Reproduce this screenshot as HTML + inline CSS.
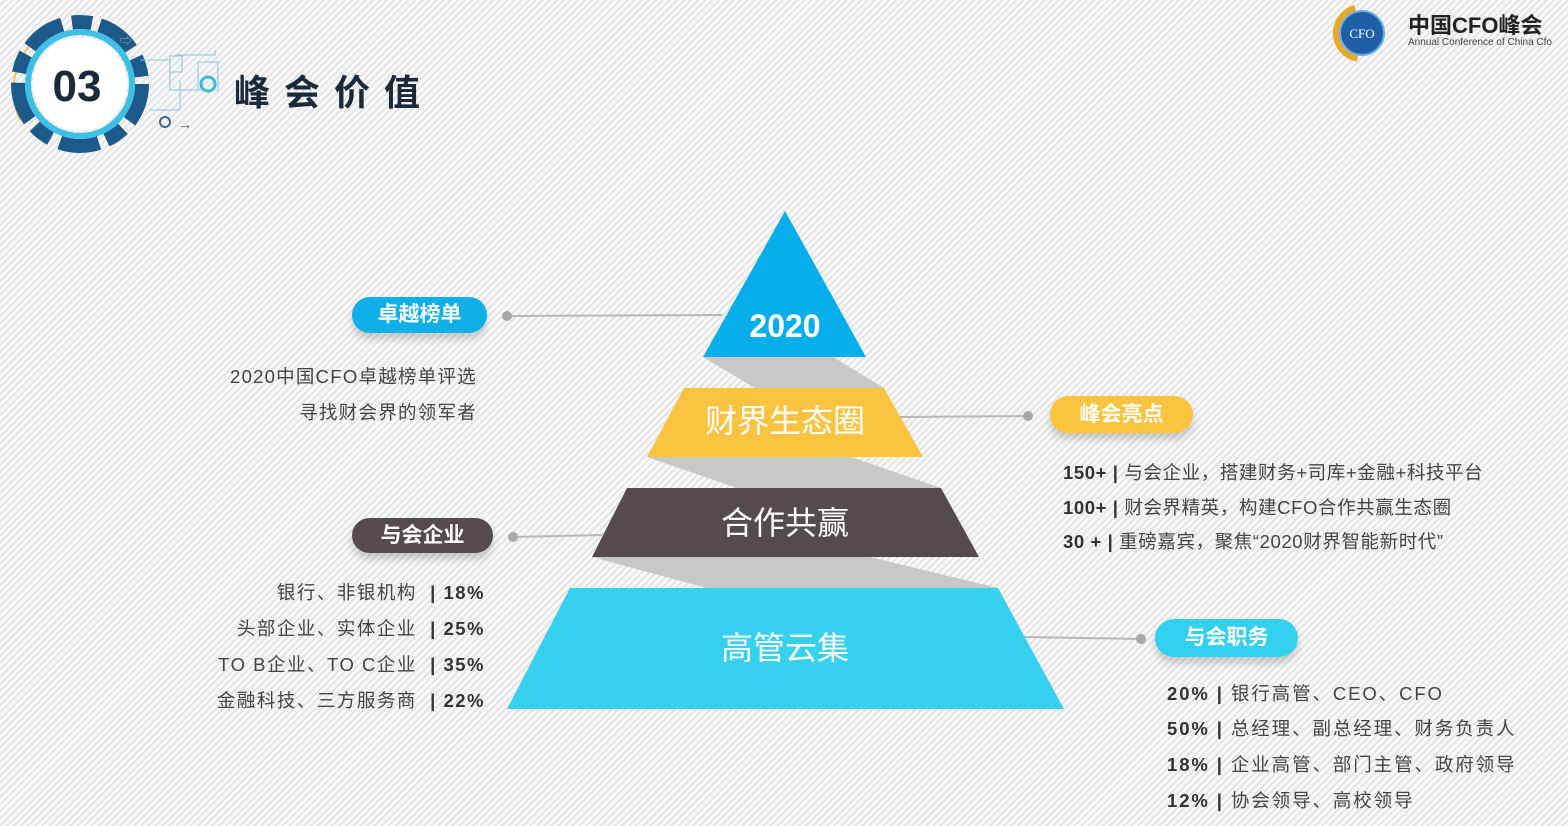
<!DOCTYPE html>
<html><head><meta charset="utf-8"><style>
html,body{margin:0;padding:0}
body{width:1568px;height:826px;position:relative;overflow:hidden;font-family:"Liberation Sans","Noto Sans CJK SC",sans-serif;
background:repeating-linear-gradient(-45deg,#f9f9f9 0 3px,#e4e4e4 3px 5px);}
.abs{position:absolute}
.pill{position:absolute;border-radius:19px;color:#fff;font-weight:bold;font-size:21px;text-align:center;box-shadow:0 6px 8px rgba(0,0,0,.18)}
.t{position:absolute;color:#444;font-size:18.5px;white-space:nowrap;letter-spacing:1px}
.r{text-align:right}
b{color:#333}
</style></head><body>
<svg class="abs" style="left:0;top:0" width="1568" height="826">
 <g>
  <path d="M35,40 A70,70 0 0 0 20,120" stroke="#f2c45a" stroke-width="2" fill="none"/>
  <circle cx="80" cy="84" r="62" fill="none" stroke="#1d5a8c" stroke-width="14" stroke-dasharray="40 10 20 8"/>
  <circle cx="80" cy="84" r="52" fill="none" stroke="#3cc0e6" stroke-width="6"/>
  <circle cx="80" cy="84" r="47" fill="#fff"/>
  <text x="77" y="101" font-family="Liberation Sans" font-weight="bold" font-size="44" fill="#1a2a3a" text-anchor="middle">03</text>
  <g stroke="#8fc6de" stroke-width="1" fill="none">
   <path d="M140,60 L170,60 L170,90 L200,90"/><path d="M150,110 L180,110 L180,80"/><path d="M175,55 L215,55 L215,50"/>
   <rect x="170" y="56" width="12" height="16"/><rect x="198" y="62" width="20" height="28"/>
  </g>
  <circle cx="208" cy="84" r="7" fill="none" stroke="#3cb8e0" stroke-width="3"/>
  <circle cx="165" cy="122" r="5" fill="none" stroke="#3d6a8c" stroke-width="2"/>
  <text x="178" y="129" font-size="14" fill="#555">→</text>
  <text x="120" y="45" font-size="12" fill="#aaa">⇨</text>
 </g>
 <circle cx="1362" cy="33" r="26" fill="none" stroke="#e8a928" stroke-width="6" stroke-dasharray="70 200" transform="rotate(100 1362 33)"/>
 <circle cx="1362" cy="33" r="22" fill="#1f5fa8" stroke="#6cb0de" stroke-width="2"/>
 <text x="1362" y="38" font-family="Liberation Serif" font-size="13" fill="#fff" text-anchor="middle">CFO</text>
 <g stroke="#b8b8b8" stroke-width="2">
  <line x1="507" y1="316" x2="722" y2="315"/><line x1="900" y1="417" x2="1028" y2="416"/>
  <line x1="513" y1="537" x2="602" y2="535"/><line x1="1024" y1="637" x2="1141" y2="639"/>
 </g>
 <g fill="#a8a8a8"><circle cx="507" cy="316" r="5"/><circle cx="1028" cy="416" r="5"/><circle cx="513" cy="537" r="5"/><circle cx="1141" cy="639" r="5"/></g>
 <g fill="#c8c8c8">
  <polygon points="703,357 833,357 884,388 755,388"/>
  <polygon points="647,457 851,457 941,488 737,488"/>
  <polygon points="592,557 870,557 998,588 707,588"/>
 </g>
 <polygon points="785,211 866,357 703,357" fill="#06afec"/>
 <polygon points="684,388 884,388 923,457 647,457" fill="#fbc440"/>
 <polygon points="627,488 941,488 979,557 592,557" fill="#544a50"/>
 <polygon points="570,588 998,588 1064,709 507,709" fill="#36d1ef"/>
 <text x="785" y="337" font-family="Liberation Sans" font-weight="bold" font-size="32" fill="#fff" text-anchor="middle">2020</text>
 <g font-family="Liberation Sans,Noto Sans CJK SC,sans-serif" font-size="32" fill="#fff" text-anchor="middle">
  <text x="785" y="432">财界生态圈</text><text x="785" y="534">合作共赢</text><text x="785" y="659">高管云集</text>
 </g>
</svg>
<div class="abs" style="left:234px;top:64px;font-size:36px;font-weight:bold;color:#1a2a3a;letter-spacing:14px">峰会价值</div>
<div class="abs" style="left:1408px;top:8px;font-size:22px;font-weight:bold;color:#222">中国CFO峰会</div>
<div class="abs" style="left:1408px;top:37px;font-size:10px;color:#444">Annual Conference of China Cfo</div>

<div class="pill" style="left:352px;top:297px;width:135px;height:36px;line-height:36px;background:#0fb0ea">卓越榜单</div>
<div class="pill" style="left:352px;top:518px;width:141px;height:35px;line-height:35px;background:#554a50">与会企业</div>
<div class="pill" style="left:1050px;top:396px;width:143px;height:37px;line-height:37px;background:#fbc43e">峰会亮点</div>
<div class="pill" style="left:1155px;top:619px;width:143px;height:38px;line-height:38px;background:#34d0ef">与会职务</div>

<div class="t r" style="right:1091px;top:363px;letter-spacing:1.25px">2020中国CFO卓越榜单评选</div>
<div class="t r" style="right:1091px;top:399px;letter-spacing:1.25px">寻找财会界的领军者</div>

<div class="t r" style="right:1083px;top:579px;letter-spacing:1.5px">银行、非银机构 &nbsp;<b>| 18%</b></div>
<div class="t r" style="right:1083px;top:615px;letter-spacing:1.5px">头部企业、实体企业 &nbsp;<b>| 25%</b></div>
<div class="t r" style="right:1083px;top:651px;letter-spacing:1.5px">TO B企业、TO C企业 &nbsp;<b>| 35%</b></div>
<div class="t r" style="right:1083px;top:687px;letter-spacing:1.5px">金融科技、三方服务商 &nbsp;<b>| 22%</b></div>

<div class="t" style="left:1063px;top:459px;letter-spacing:0.6px"><b>150+ |</b> 与会企业，搭建财务+司库+金融+科技平台</div>
<div class="t" style="left:1063px;top:494px;letter-spacing:0.6px"><b>100+ |</b> 财会界精英，构建CFO合作共赢生态圈</div>
<div class="t" style="left:1063px;top:528px;letter-spacing:0.6px"><b>30 + |</b> 重磅嘉宾，聚焦“2020财界智能新时代”</div>

<div class="t" style="left:1167px;top:680px;letter-spacing:1.9px"><b>20% |</b> 银行高管、CEO、CFO</div>
<div class="t" style="left:1167px;top:715px;letter-spacing:1.9px"><b>50% |</b> 总经理、副总经理、财务负责人</div>
<div class="t" style="left:1167px;top:751px;letter-spacing:1.9px"><b>18% |</b> 企业高管、部门主管、政府领导</div>
<div class="t" style="left:1167px;top:787px;letter-spacing:1.9px"><b>12% |</b> 协会领导、高校领导</div>
</body></html>
